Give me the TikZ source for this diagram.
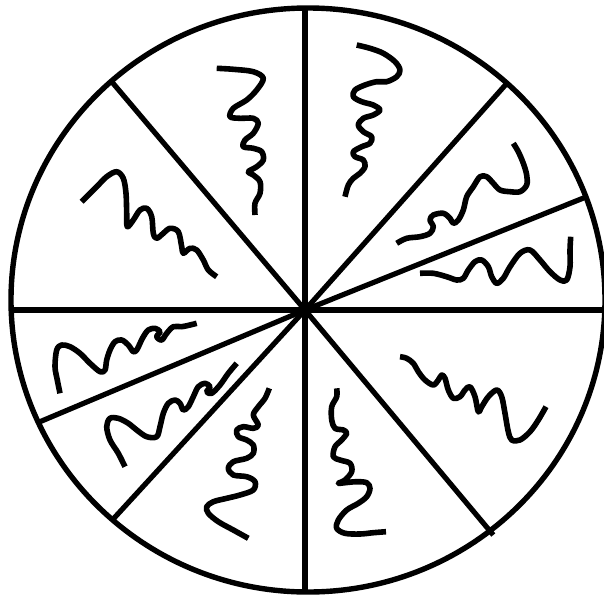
\documentclass[tikz,border=0pt]{standalone}
\begin{document}
\begin{tikzpicture}[x=1pt,y=-1pt,
  rim/.style={line width=5.4pt},
  cut/.style={line width=5.2pt},
  squig/.style={line width=5.6pt,line join=round,line cap=butt}]
\clip (0,0) rectangle (604,597);
\fill[white] (0,0) rectangle (604,597);
\coordinate (c) at (305,310);
% rim
\draw[rim] (308,300) ellipse [x radius=297, y radius=292];
% cuts
\coordinate (top) at (305,7);
\coordinate (bot) at (305,592);
\coordinate (lft) at (11,310);
\coordinate (rgt) at (610,310);
\coordinate (ul) at (111.7,81.7);
\coordinate (lr) at (493.3,535);
\coordinate (ur) at (508.3,81.7);
\coordinate (ll) at (111.7,520.7);
\coordinate (sr) at (586,197);
\coordinate (sl) at (40,421.7);
\draw[cut] (top) -- (bot);
\draw[cut] (lft) -- (rgt);
\draw[cut] (ul) -- (c) -- (lr);
\draw[cut] (ur) -- (c) -- (ll);
\draw[cut] (sr) -- (c) -- (sl);
% squiggles
\draw[squig] plot[smooth,tension=0.55] coordinates {(216.7,68.3) (233.3,69.3) (253.3,71.7) (263.3,78.3) (256.7,90) (246.7,100) (233.3,108.3) (230,116.7) (240,118.3) (253.3,118.3) (258.3,123.3) (253.3,133.3) (245,140) (243.3,146.7) (253.3,148.3) (261.7,151.7) (263.3,160) (256.7,166.7) (248.3,171.7) (253.3,175) (260,181.7) (260,193.3) (255,203.3) (255,215)};
\draw[squig] plot[smooth,tension=0.55] coordinates {(81.7,201.7) (96.7,186.7) (106.7,176.7) (116.7,171.7) (123.3,178.3) (126,193.3) (126.7,213.3) (127.3,226.7) (133.3,220) (140,210) (146.7,208.3) (151.7,216.7) (153.3,233.3) (156.7,238.3) (163.3,233.3) (170,228.3) (178.3,231.7) (181.7,246.7) (183.3,253.3) (190,248.3) (196.7,250) (203.3,260) (208.3,270) (216.7,276.7)};
\draw[squig] plot[smooth,tension=0.55] coordinates {(356.7,45) (370,48.3) (383.3,53.3) (395,61.7) (400,70) (396.7,76.7) (386.7,81.7) (376.7,81.7) (365,85) (355,90) (353.3,96.7) (361.7,101.7) (373.3,105) (380,110) (373.3,115) (363.3,118.3) (358.3,125) (363.3,131.7) (371.7,136.7) (370,143.3) (361.7,146.7) (353.3,151.7) (355,156.7) (363.3,160) (365,166.7) (360,173.3) (353.3,178.3) (348.3,185) (345,196.7)};
\draw[squig] plot[smooth,tension=0.55] coordinates {(396.7,243.3) (406.7,238.3) (420,236.7) (430,233.3) (433.3,226.7) (430,220) (433.3,215) (443.3,213.3) (450,218.3) (453.3,223.3) (458.3,220) (463.3,210) (466.7,196.7) (473.3,186.7) (480,176.7) (486.7,176.7) (493.3,183.3) (500,190) (510,191.7) (520,191.7) (526.7,185) (526.7,175) (523.3,163.3) (518.3,151.7) (513.3,143.3)};
\draw[squig] plot[smooth,tension=0.55] coordinates {(420,273.3) (433.3,273.3) (446.7,276.7) (456.7,280) (463.3,278.3) (468.3,270) (475,261.7) (481.7,260) (488.3,266.7) (491.7,276.7) (496.7,283.3) (503.3,278.3) (510,266.7) (520,253.3) (530,250) (540,260) (550,271.7) (560,280) (566.7,280) (570,266.7) (570,250) (570.7,236.7)};
\draw[squig] plot[smooth,tension=0.55] coordinates {(60,393.3) (57.3,380) (55,366.7) (56.7,350) (61.7,345) (70,346.7) (80,353.3) (90,363.3) (100,371.7) (105,370) (106.7,360) (110,350) (115,341.7) (121.7,340) (128.3,345) (133.3,351.7) (136.7,350) (140,343.3) (143.3,336.7) (148.3,330) (155,328.3) (160,331.7) (156.7,336.7) (161.7,340) (166.7,333.3) (173.3,326.7) (181.7,326.7) (190,325) (196.7,323.3)};
\draw[squig] plot[smooth,tension=0.55] coordinates {(125,466.7) (118.3,453.3) (110,440) (106.7,426.7) (110,418.3) (118.3,418.3) (128.3,423.3) (136.7,430) (146.7,436.7) (156.7,436.7) (160,426.7) (163.3,413.3) (168.3,403.3) (175,400) (180,403.3) (183.3,410) (188.3,406.7) (193.3,396.7) (198.3,386.7) (205,383.3) (210,386.7) (206.7,391.7) (211.7,393.3) (220,385) (228.3,373.3) (236.7,363.3)};
\draw[squig] plot[smooth,tension=0.55] coordinates {(248.3,538.3) (233.3,530) (218.3,521.7) (208.3,513.3) (206.7,506.7) (213.3,501.7) (226.7,498.3) (240,495) (253.3,490) (255,481.7) (246.7,476.7) (233.3,475) (228.3,468.3) (233.3,461.7) (246.7,458.3) (253.3,453.3) (253.3,445) (246.7,440) (238.3,436.7) (236.7,430) (243.3,426.7) (253.3,428.3) (258.3,425) (253.3,415) (258.3,406.7) (265,398.3) (269.3,388.3)};
\draw[squig] plot[smooth,tension=0.55] coordinates {(336.7,388.3) (336.7,396.7) (331.7,406.7) (331.7,420) (335,428.3) (343.3,430) (346.7,433.3) (341.7,440) (335,446.7) (333.3,456.7) (340,460) (350,463.3) (351.7,471.7) (345,480) (338.3,483.3) (345,482.7) (356.7,481.7) (366.7,482.7) (370,488.3) (366.7,496.7) (358.3,503.3) (346.7,510) (338.3,520) (336.7,528.3) (345,533.3) (360,534) (373.3,532.7) (386,531.7)};
\draw[squig] plot[smooth,tension=0.55] coordinates {(400,356.7) (406.7,358.3) (413.3,363.3) (418.3,371.7) (425,380) (433.3,385) (438.3,380) (441.7,375) (445,378.3) (448.3,390) (453.3,398.3) (460,396.7) (465,390) (470,386.7) (475,396.7) (478.3,411.7) (481.7,406.7) (488.3,396.7) (496.7,390) (501.7,396.7) (505,413.3) (508.3,431.7) (511.7,440) (520,440) (530,431.7) (538.3,420) (546,406.7)};
\end{tikzpicture}
\end{document}
